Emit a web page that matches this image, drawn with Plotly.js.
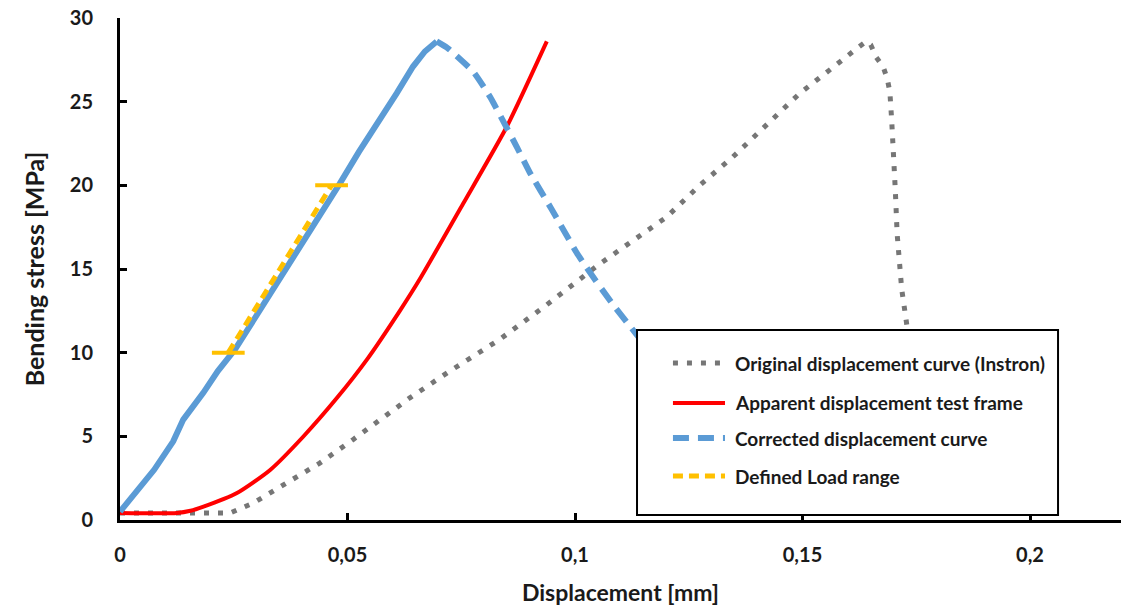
<!DOCTYPE html>
<html>
<head>
<meta charset="utf-8">
<script src="https://cdn.plot.ly/plotly-3.0.1.min.js"></script>
<style>html,body{margin:0;padding:0;background:#fff}#chart{width:1123px;height:608px}</style>
</head>
<body>
<div id="chart"></div>
<script>
// ---- Data ----
const seriesNames = [
  "Original displacement curve (Instron)",
  "Apparent displacement test frame",
  "Corrected displacement curve",
  "Defined Load range"
];

// Original displacement curve (Instron) - grey dotted
const greyX = [0, 0.0125, 0.0242, 0.0292, 0.0367, 0.0439, 0.0512, 0.0637, 0.0725, 0.0835, 0.0935, 0.1026, 0.1054, 0.1201, 0.1274, 0.1347, 0.1420, 0.1494, 0.1560, 0.1600, 0.1625, 0.1640,
               0.1650, 0.1662, 0.1677, 0.1686, 0.1692, 0.1696, 0.1700, 0.1704, 0.1708, 0.1712, 0.1718, 0.1727, 0.1735];
const greyY = [0.42, 0.42, 0.42, 1.0, 2.2, 3.4, 4.8, 7.3, 8.9, 10.8, 12.8, 14.76, 15.3, 18.1, 20.0, 21.7, 23.6, 25.5, 26.9, 27.8, 28.3, 28.6,
               28.4, 27.65, 27.1, 26.4, 25.6, 23.9, 22.2, 19.7, 17.1, 15.4, 13.8, 12.1, 10.5];

// Apparent displacement test frame - red solid
const redX = [0, 0.0125, 0.0155, 0.0182, 0.0257, 0.0330, 0.0402, 0.0477, 0.0543, 0.0615, 0.0659, 0.0754, 0.0850, 0.0938];
const redY = [0.42, 0.42, 0.55, 0.78, 1.61, 2.99, 4.96, 7.3, 9.6, 12.5, 14.4, 18.9, 23.5, 28.6];

// Corrected displacement curve - blue (rising part, dense data)
const blueRiseX = [0, 0.004, 0.0075, 0.0117, 0.0139, 0.0183, 0.0215, 0.0253, 0.030, 0.035, 0.040, 0.045, 0.0483, 0.0525, 0.0571, 0.0608, 0.0644, 0.0670, 0.0696];
const blueRiseY = [0.5, 1.8, 3.0, 4.7, 6.0, 7.6, 8.9, 10.2, 12.2, 14.4, 16.6, 18.7, 20.1, 22.0, 23.9, 25.5, 27.1, 28.0, 28.6];
// Corrected displacement curve - blue (post-peak part, dashed)
const blueFallX = [0.0696, 0.0720, 0.0776, 0.0813, 0.0841, 0.0872, 0.0900, 0.0948, 0.1003, 0.1025, 0.1080, 0.1135, 0.1180];
const blueFallY = [28.6, 28.2, 26.8, 25.3, 23.9, 22.3, 20.8, 18.6, 16.0, 15.1, 13.0, 11.1, 9.6];

// Defined Load range - yellow dashed with range markers
const loadX = [0.0238, 0.0465];
const loadY = [10, 20];
const loadHalfWidth = [0.0036, 0.0036];

// Axis ticks
const xTickVals = [0, 0.05, 0.1, 0.15, 0.2];
const xTickText = ["0", "0,05", "0,1", "0,15", "0,2"];
const yTickVals = [0, 5, 10, 15, 20, 25, 30];
const yTickText = ["0", "5", "10", "15", "20", "25", "30"];

// ---- Styles ----
const FONT = "Lato, 'Open Sans', sans-serif";
const TXT = "#1a1a1a";
const styles = [
  {color: "#767676", width: 5, dash: "5px,9px"},
  {color: "#FF0000", width: 4, dash: "solid"},
  {color: "#5B9BD5", width: 6, dash: "16px,9px"},
  {color: "#FFC000", width: 5, dash: "10px,6px"}
];

// ---- Traces ----
const traces = [
  {x: greyX, y: greyY, type: "scatter", mode: "lines", name: seriesNames[0],
   line: {color: styles[0].color, width: styles[0].width, dash: styles[0].dash}},
  {x: redX, y: redY, type: "scatter", mode: "lines", name: seriesNames[1],
   line: {color: styles[1].color, width: styles[1].width, shape: "spline", smoothing: 0.6}},
  {x: blueRiseX, y: blueRiseY, type: "scatter", mode: "lines", name: seriesNames[2],
   line: {color: styles[2].color, width: styles[2].width}},
  {x: blueFallX, y: blueFallY, type: "scatter", mode: "lines", name: seriesNames[2],
   line: {color: styles[2].color, width: styles[2].width, dash: styles[2].dash, shape: "spline", smoothing: 0.5}},
  {x: loadX, y: loadY, type: "scatter", mode: "lines", name: seriesNames[3],
   line: {color: styles[3].color, width: styles[3].width, dash: styles[3].dash},
   error_x: {type: "data", array: loadHalfWidth, symmetric: true, color: styles[3].color, thickness: 4, width: 0}}
];

// ---- Legend box (drawn as shapes + annotations, paper coordinates) ----
const legBox = {x0: 0.5165, x1: 0.9371, y0: 0.010, y1: 0.3785};
const legRowsY = [0.3127, 0.2331, 0.1633, 0.0876];
const legSymX = [0.5524, 0.6044];
const legTextX = 0.6124;

const shapes = [{
  type: "rect", xref: "paper", yref: "paper", layer: "above",
  x0: legBox.x0, x1: legBox.x1, y0: legBox.y0, y1: legBox.y1,
  fillcolor: "#ffffff", line: {color: "#000", width: 2}
}];
const annotations = [];
seriesNames.forEach((name, i) => {
  shapes.push({
    type: "line", xref: "paper", yref: "paper", layer: "above",
    x0: legSymX[0], x1: legSymX[1], y0: legRowsY[i], y1: legRowsY[i],
    line: {color: styles[i].color, width: styles[i].width, dash: styles[i].dash}
  });
  annotations.push({
    xref: "paper", yref: "paper", x: legTextX, y: legRowsY[i],
    xanchor: "left", yanchor: "middle", showarrow: false, text: name,
    font: {family: FONT, size: 19, weight: "bold", color: TXT}
  });
});

const layout = {
  width: 1123, height: 608,
  margin: {l: 120, r: 2, t: 18, b: 88},
  paper_bgcolor: "#ffffff", plot_bgcolor: "#ffffff",
  font: {family: FONT, color: TXT},
  showlegend: false,
  shapes: shapes,
  annotations: annotations,
  xaxis: {
    range: [0, 0.22], tickvals: xTickVals, ticktext: xTickText,
    showgrid: false, zeroline: false,
    showline: true, linecolor: "#000", linewidth: 3,
    ticks: "inside", ticklen: 7, tickwidth: 3, tickcolor: "#000",
    ticklabelstandoff: 15,
    tickfont: {family: FONT, size: 20, weight: "bold", color: TXT},
    title: {text: "Displacement [mm]", font: {family: FONT, size: 23, weight: "bold", color: TXT}, standoff: 20},
    fixedrange: true
  },
  yaxis: {
    range: [0, 30], tickvals: yTickVals, ticktext: yTickText,
    showgrid: false, zeroline: false,
    showline: true, linecolor: "#000", linewidth: 3,
    ticks: "inside", ticklen: 7, tickwidth: 3, tickcolor: "#000",
    ticklabelstandoff: 20,
    tickfont: {family: FONT, size: 20, weight: "bold", color: TXT},
    title: {text: "Bending stress [MPa]", font: {family: FONT, size: 25, weight: "bold", color: TXT}, standoff: 19},
    fixedrange: true
  }
};

Plotly.newPlot("chart", traces, layout, {displayModeBar: false, staticPlot: true});
</script>
</body>
</html>
